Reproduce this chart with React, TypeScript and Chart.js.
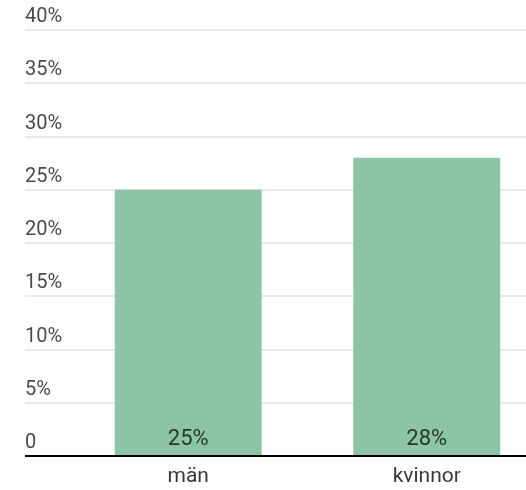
import React, { useEffect, useRef } from "react";
import { Chart, registerables } from "chart.js";

Chart.register(...registerables);

const categories = ["män", "kvinnor"];
const values = [25, 28];
const yTicks = [0, 5, 10, 15, 20, 25, 30, 35, 40];

const FONT = "Roboto";

const barLabelPlugin = {
  id: "barLabels",
  afterDatasetsDraw(chart: any) {
    const ctx = chart.ctx;
    const meta = chart.getDatasetMeta(0);
    ctx.save();
    ctx.font = `22px ${FONT}`;
    ctx.fillStyle = "#243a2d";
    ctx.textAlign = "center";
    ctx.textBaseline = "middle";
    meta.data.forEach((bar: any, i: number) => {
      const v = chart.data.datasets[0].data[i];
      ctx.fillText(`${v}%`, bar.x, bar.base - 16);
    });
    ctx.restore();
  },
};

export default function App() {
  const ref = useRef<HTMLCanvasElement | null>(null);
  useEffect(() => {
    if (!ref.current) return;
    const chart = new Chart(ref.current, {
      type: "bar",
      data: {
        labels: categories,
        datasets: [
          {
            data: values,
            backgroundColor: "#8dc3a7",
            borderWidth: 0,
            categoryPercentage: 1,
            barPercentage: 0.616,
          },
        ],
      },
      options: {
        responsive: false,
        animation: false,
        layout: { padding: { left: 25, right: 14, top: 30, bottom: 0 } },
        plugins: { legend: { display: false }, tooltip: { enabled: false } },
        scales: {
          x: {
            z: 1,
            afterFit: (s: any) => {
              s.height = 34;
            },
            grid: { display: false, drawTicks: false },
            border: { display: true, color: "#000", width: 2 },
            ticks: {
              color: "#383838",
              font: { family: FONT, size: 21 },
              padding: 8,
            },
          },
          y: {
            min: 0,
            max: 40,
            afterBuildTicks: (scale: any) => {
              scale.ticks = yTicks.map((v) => ({ value: v }));
            },
            afterFit: (s: any) => {
              s.width = 44;
            },
            border: { display: false },
            grid: {
              color: (c: any) => (c.tick && c.tick.value === 0 ? "#000" : "#e8e8e8"),
              lineWidth: 2,
              tickLength: 44,
              drawTicks: true,
            },
            ticks: {
              crossAlign: "far",
              padding: 0,
              labelOffset: -13,
              color: "#4a4a4a",
              font: { family: FONT, size: 20 },
              callback: (v: any) => (Number(v) === 0 ? "0" : `${v}%`),
            },
          },
        },
      },
      plugins: [barLabelPlugin],
    });
    return () => chart.destroy();
  }, []);
  return (
    <div
      style={{
        position: "absolute",
        left: 0,
        top: 0,
        width: 526,
        height: 490,
        overflow: "hidden",
      }}
    >
      <canvas ref={ref} width={560} height={490} style={{ display: "block" }} />
    </div>
  );
}
